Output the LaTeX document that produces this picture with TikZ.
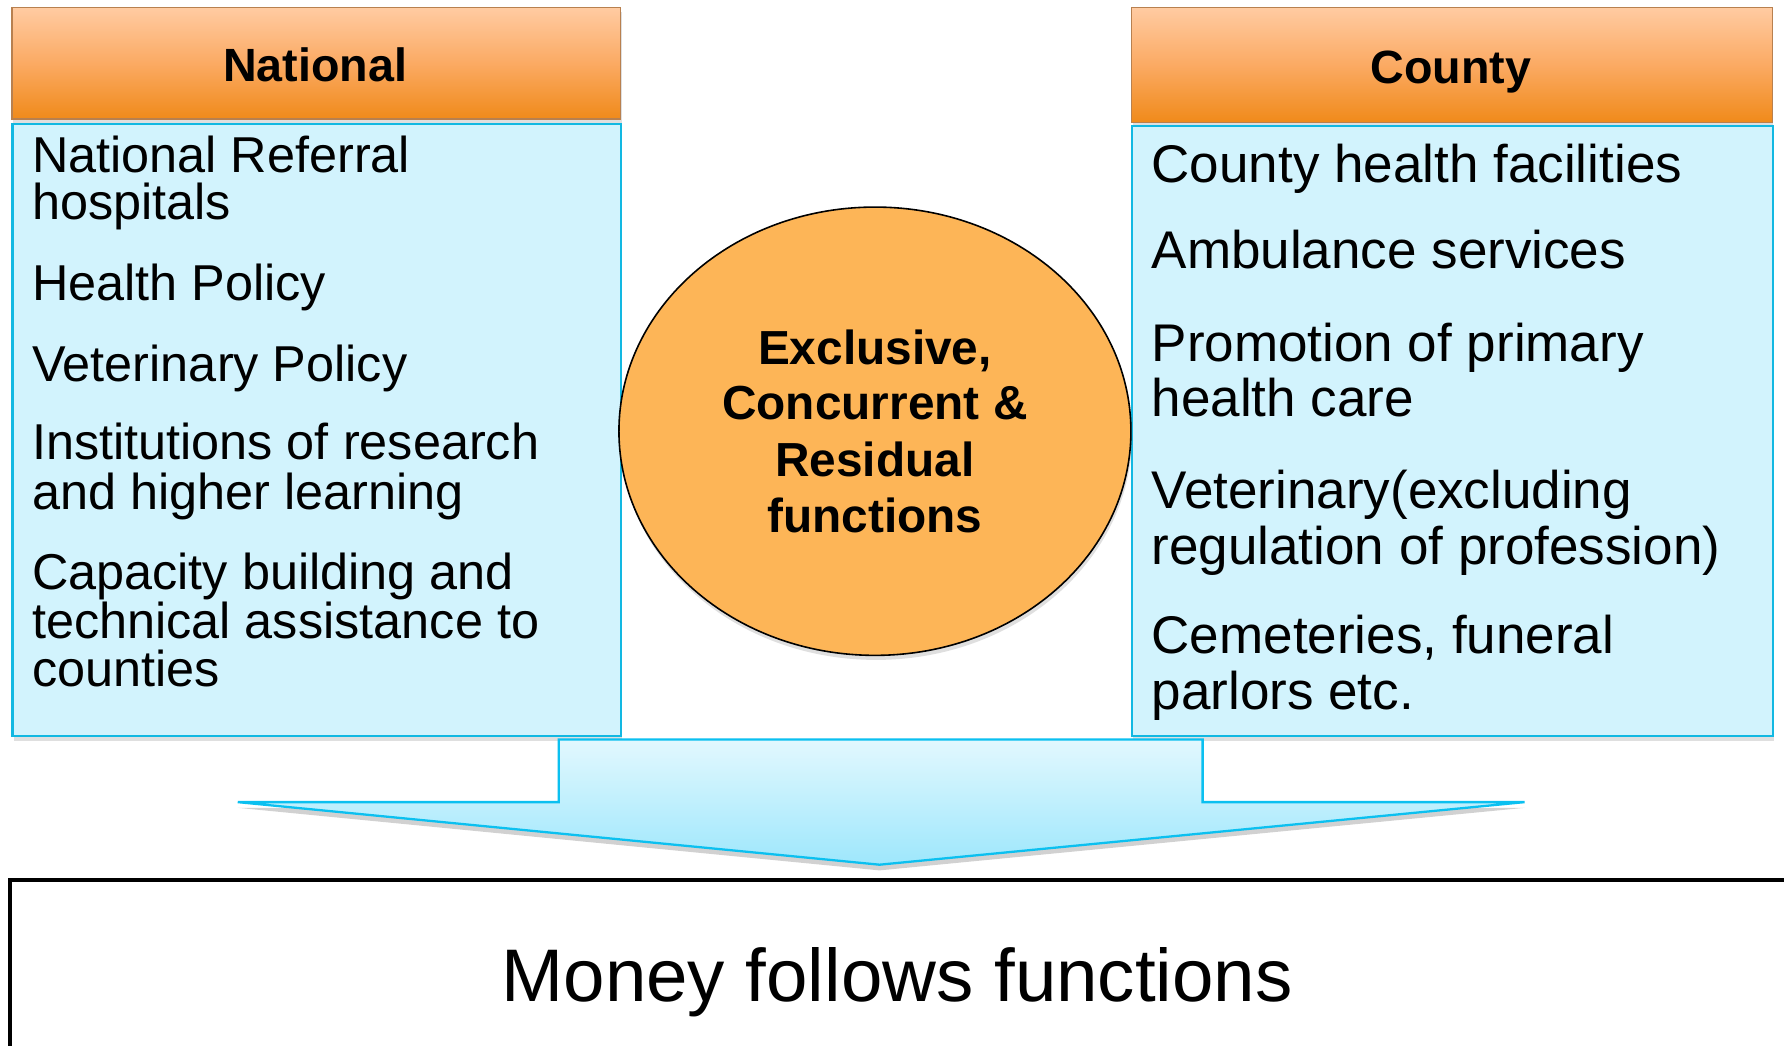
\documentclass[tikz,border=0pt]{standalone}
\usepackage{fontspec}
\setmainfont{Liberation Sans}
\usetikzlibrary{shapes.geometric,shadows}
\definecolor{hdrtop}{HTML}{FFCBA2}
\definecolor{hdrmid}{HTML}{FBAA63}
\definecolor{hdrbot}{HTML}{F08A1A}
\definecolor{hdredge}{HTML}{B8804F}
\definecolor{bodyfill}{HTML}{D2F3FD}
\definecolor{bodyedge}{HTML}{12B8E2}
\definecolor{arrtop}{HTML}{E2F8FE}
\definecolor{arrbot}{HTML}{9EE7FC}
\definecolor{arredge}{HTML}{0BC0F0}
\definecolor{ellfill}{HTML}{FDB557}
\begin{document}
\begin{tikzpicture}[x=1pt,y=-1pt,
  softshadow/.style={drop shadow={opacity=0.25,shadow xshift=1pt,shadow yshift=-4pt}},
  hdrbox/.style={rectangle,anchor=north west,inner sep=0pt,draw=hdredge,line width=1.2pt,
    top color=hdrtop,bottom color=hdrbot,middle color=hdrmid,softshadow},
  bodybox/.style={rectangle,anchor=north west,inner sep=0pt,draw=bodyedge,line width=2pt,
    fill=bodyfill,softshadow},
  hdrtxt/.style={anchor=base,inner sep=0pt,font=\fontsize{41}{49}\selectfont\bfseries},
  txtL/.style={anchor=base west,inner sep=0pt,font=\fontsize{44.3}{44}\selectfont},
  txtR/.style={anchor=base west,inner sep=0pt,font=\fontsize{46.6}{48}\selectfont},
  elltxt/.style={anchor=base,inner sep=0pt,font=\fontsize{42}{49}\selectfont\bfseries},
]
\useasboundingbox (0,0) rectangle (1568,919);
\clip (0,0) rectangle (1568,919);
\fill[white] (0,0) rectangle (1568,919);

% National column
\node[hdrbox,minimum width=535pt,minimum height=98pt] (nhdr) at (10,6) {};
\node[bodybox,minimum width=535pt,minimum height=538pt] (nbody) at (10,108) {};
\node[hdrtxt] (nhdrt) at (277,72) {National};
\node[txtL] (l1) at (28,152) {National Referral};
\node[txtL] (l2) at (28,193) {hospitals};
\node[txtL] (l3) at (28,264) {Health Policy};
\node[txtL] (l4) at (28,335) {Veterinary Policy};
\node[txtL] (l5) at (28,404) {Institutions of research};
\node[txtL] (l6) at (28,448) {and higher learning};
\node[txtL] (l7) at (28,518) {Capacity building and};
\node[txtL] (l8) at (28,561) {technical assistance to};
\node[txtL] (l9) at (28,603) {counties};

% County column
\node[hdrbox,minimum width=563pt,minimum height=101pt] (chdr) at (994,6) {};
\node[bodybox,minimum width=563pt,minimum height=536pt] (cbody) at (994,110) {};
\node[hdrtxt] (chdrt) at (1275,73) {County};
\node[txtR] (r1) at (1012,160) {County health facilities};
\node[txtR] (r2) at (1012,236) {Ambulance services};
\node[txtR] (r3) at (1012,318) {Promotion of primary};
\node[txtR] (r4) at (1012,366) {health care};
\node[txtR] (r5) at (1012,447) {Veterinary(excluding};
\node[txtR] (r6) at (1012,496) {regulation of profession)};
\node[txtR] (r7) at (1012,574) {Cemeteries, funeral};
\node[txtR] (r8) at (1012,624) {parlors etc.};

% Central ellipse
\node[ellipse,draw=black,line width=1.4pt,fill=ellfill,minimum width=450pt,minimum height=394pt,
  inner sep=0pt,drop shadow={opacity=0.25,shadow xshift=1pt,shadow yshift=-4pt}] (ell) at (769,379) {};
\node[elltxt] (e1) at (769,320) {Exclusive,};
\node[elltxt] (e2) at (769,369) {Concurrent \&};
\node[elltxt] (e3) at (769,419) {Residual};
\node[elltxt] (e4) at (769,468) {functions};

% Down arrow
\coordinate (a1) at (491,650);
\coordinate (a2) at (1057,650);
\coordinate (a3) at (1057,705);
\coordinate (a4) at (1340,705);
\coordinate (tip) at (773,760);
\coordinate (a6) at (209,705);
\coordinate (a7) at (491,705);
\fill[black,opacity=0.18] ([yshift=-5pt]a6) -- ([yshift=-5pt]tip) -- ([yshift=-5pt]a4) -- cycle;
\draw[draw=arredge,line width=2pt,top color=arrtop,bottom color=arrbot,line join=miter]
  (a1) -- (a2) -- (a3) -- (a4) -- (tip) -- (a6) -- (a7) -- cycle;

% Bottom box
\node[rectangle,draw=black,line width=3.5pt,anchor=north west,inner sep=0pt,
  minimum width=1620pt,minimum height=200pt] (money) at (7,772) {};
\node[anchor=base,inner sep=0pt,font=\fontsize{65.5}{70}\selectfont] (moneyt) at (788.5,880) {Money follows functions};
\end{tikzpicture}
\end{document}
